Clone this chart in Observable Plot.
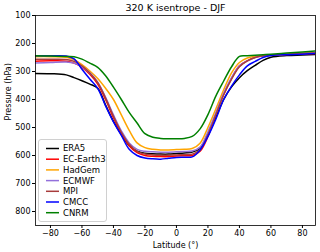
<!DOCTYPE html>
<html>
<head>
<meta charset="utf-8">
<script src="https://cdn.jsdelivr.net/npm/d3@7"></script>
<script src="https://cdn.jsdelivr.net/npm/@observablehq/plot@0.6"></script>
<style>
  body { margin: 0; background: white; }
  #wrap { position: relative; width: 320px; height: 252px; font-family: "DejaVu Sans", sans-serif; }
  #legend { position: absolute; left: 38px; top: 139px; width: 69px; height: 83px; border: 1px solid #d0d0d0; border-radius: 3px; background: rgba(255,255,255,0.85); box-sizing: border-box; }
  #legend svg { position: absolute; left: 0; top: 0; }
</style>
</head>
<body>
<div id="wrap"><div id="chart"></div><div id="legend"></div></div>
<script>
const lats = [-90,-80,-70,-65,-60,-55,-50,-45,-40,-35,-30,-25,-20,-15,-10,-5,0,5,10,15,20,25,30,35,40,45,50,55,60,70,80,90];
const era5     = [307,308,312,322,333,345,360,420,478,525,565,585,592,594,595,595,593,591,588,575,528,465,400,355,322,297,278,260,249,243,241,239];
const ecEarth3 = [263,262,263,270,285,310,345,400,465,520,565,590,600,603,604,604,602,601,600,585,532,452,382,325,280,262,249,244,242,239,237,235];
const hadGem   = [247,247,249,258,275,298,325,360,400,455,510,555,572,578,580,580,579,578,575,556,500,434,365,305,268,252,246,243,241,238,235,232];
const ecmwf    = [270,268,266,270,283,305,338,392,455,512,555,578,585,587,588,588,587,586,584,570,515,448,378,322,280,262,250,244,242,238,236,234];
const mpi      = [256,256,257,264,280,305,340,395,460,517,560,585,595,598,599,599,598,597,595,580,525,455,383,327,283,262,250,244,241,238,236,233];
const cmcc     = [244,244,245,255,292,327,360,423,480,528,578,600,609,612,613,610,607,606,605,580,532,470,400,352,312,280,264,250,243,240,238,235];
const cnrm     = [244,245,246,247,256,270,285,315,356,400,446,484,522,535,539,540,540,539,532,505,454,388,334,283,246,244,242,240,238,234,230,226];

const models = ["ERA5","EC-Earth3","HadGem","ECMWF","MPI","CMCC","CNRM"];
const colors = ["#000000","#ff0000","#ffa500","#9370db","#a83c3c","#0000ff","#008000"];
const series = [era5, ecEarth3, hadGem, ecmwf, mpi, cmcc, cnrm];
const xTicks = [-80,-60,-40,-20,0,20,40,60,80];
const yTicks = [100,200,300,400,500,600,700,800];
const title = "320 K isentrope - DJF";
const xLabel = "Latitude (°)";
const yLabel = "Pressure (hPa)";

const rows = [];
series.forEach((s, i) => s.forEach((p, j) => rows.push({lat: lats[j], p, model: models[i]})));

const fmt = d3.format("d");
const chart = Plot.plot({
  width: 320, height: 252,
  marginTop: 15, marginLeft: 35, marginRight: 5, marginBottom: 27,
  style: {fontFamily: "DejaVu Sans", fontSize: "8px", background: "white", color: "black"},
  x: {domain: [-89.5, 88.3], ticks: xTicks, tickSize: 3, tickPadding: 2, tickFormat: fmt, label: null},
  y: {domain: [100, 850], reverse: true, ticks: yTicks, tickSize: 3, tickPadding: 2, tickFormat: fmt, label: null},
  color: {domain: models, range: colors},
  marks: [
    Plot.line(rows, {x: "lat", y: "p", z: "model", stroke: "model", strokeWidth: 1.5, curve: "catmull-rom", clip: true}),
    Plot.frame({stroke: "black", strokeWidth: 0.8}),
    Plot.text([title], {frameAnchor: "top", dy: -8, lineAnchor: "middle", text: d => d, fontSize: 9.5}),
    Plot.text([xLabel], {frameAnchor: "bottom", dy: 20, lineAnchor: "middle", text: d => d, fontSize: 8}),
    Plot.text([yLabel], {frameAnchor: "left", dx: -27, rotate: -90, lineAnchor: "middle", text: d => d, fontSize: 8})
  ]
});
document.getElementById("chart").appendChild(chart);

const leg = d3.select("#legend").append("svg").attr("width", 69).attr("height", 83);
models.forEach((m, i) => {
  const y = 8.5 + i * 10.7;
  leg.append("line").attr("x1", 7).attr("x2", 20).attr("y1", y).attr("y2", y)
    .attr("stroke", colors[i]).attr("stroke-width", 1.5);
  leg.append("text").attr("x", 24).attr("y", y).attr("dy", "0.35em")
    .attr("font-family", "DejaVu Sans").attr("font-size", 8.5).text(m);
});
</script>
</body>
</html>
